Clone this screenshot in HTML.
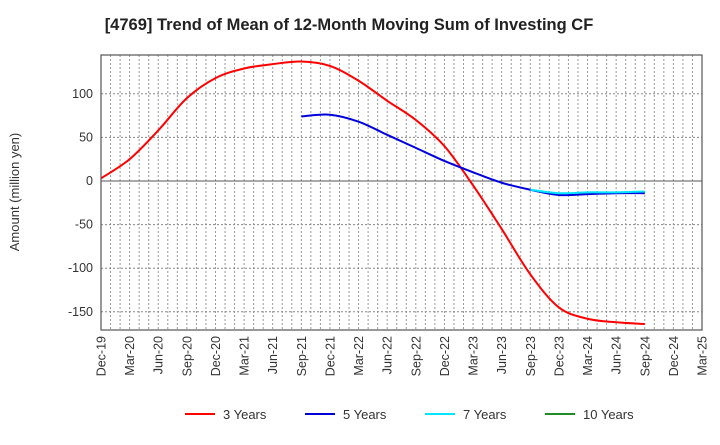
<!DOCTYPE html>
<html><head><meta charset="utf-8"><style>
body{margin:0;background:#fff;font-family:"Liberation Sans",sans-serif}
</style></head><body>
<svg id="c" width="720" height="440" xmlns="http://www.w3.org/2000/svg" font-family="Liberation Sans, sans-serif">
<text x="349" y="30" text-anchor="middle" font-size="16.5" font-weight="bold" fill="#222">[4769]  Trend of Mean of 12-Month Moving Sum of Investing CF</text>
<text transform="translate(19,192) rotate(-90)" text-anchor="middle" font-size="13" fill="#333">Amount (million yen)</text>
<g id="grid"></g><g id="series"></g><g id="axes"></g><g id="legend"></g>
</svg>
<script>
const quarters=["Dec-19","Mar-20","Jun-20","Sep-20","Dec-20","Mar-21","Jun-21","Sep-21","Dec-21","Mar-22","Jun-22","Sep-22","Dec-22","Mar-23","Jun-23","Sep-23","Dec-23","Mar-24","Jun-24","Sep-24","Dec-24","Mar-25"];
const yTicks=[100,50,0,-50,-100,-150];
const s3=[3,25,58,95,118,129,134,137,132,115,92,70,40,-5,-55,-107,-145,-158,-162,-164];
const s5=[74,76,68,53,38,23,10,-2,-10,-16,-15,-14,-14];
const s5start=7;
const s7=[-10,-14,-13,-13,-12];
const s7start=15;
const s10=[];
const NS="http://www.w3.org/2000/svg";
const L=101,R=702,T=55,B=330;
const X=i=>L+i*(R-L)/(quarters.length-1);
const Y=v=>181-v*43.6/50;
function mk(tag,attrs,parent){const e=document.createElementNS(NS,tag);for(const k in attrs)e.setAttribute(k,attrs[k]);document.getElementById(parent).appendChild(e);return e;}
for(let m=1;m<63;m++){const x=L+m*(R-L)/63;const g=mk('line',{x1:x,x2:x,y1:T,y2:B,stroke:'#999','stroke-dasharray':'2,2','stroke-width':1},'grid');

}
yTicks.forEach(v=>{const g=mk('line',{x1:L,x2:R,y1:Y(v),y2:Y(v),stroke:v===0?'#555':'#888','stroke-dasharray':v===0?'none':'2,2','stroke-width':1},'grid');


const t=mk('text',{x:L-8,y:Y(v)+4,'text-anchor':'end','font-size':12.5,fill:'#333'},'axes');t.textContent=v;

});
const fr=mk('rect',{x:L,y:T,width:R-L,height:B-T,fill:'none',stroke:'#555','stroke-width':1.2},'axes');


quarters.forEach((q,i)=>{const t=mk('text',{transform:`translate(${X(i)+4.5},${B+6}) rotate(-90)`,'text-anchor':'end','font-size':12.5,fill:'#333'},'axes');t.textContent=q;

});
function path(vals,start){const p=vals.map((v,i)=>[X(start+i),Y(v)]);if(p.length<2)return'';let d=`M${p[0][0]},${p[0][1]}`;
for(let i=0;i<p.length-1;i++){const p0=p[i-1]||p[i],p1=p[i],p2=p[i+1],p3=p[i+2]||p2;
d+=`C${p1[0]+(p2[0]-p0[0])/6},${p1[1]+(p2[1]-p0[1])/6} ${p2[0]-(p3[0]-p1[0])/6},${p2[1]-(p3[1]-p1[1])/6} ${p2[0]},${p2[1]}`;}return d;}
const ser=[[s3,0,'#ff0000','3 Years','series-3-years'],[s5,s5start,'#0000dd','5 Years','series-5-years'],[s7,s7start,'#00e5ff','7 Years','series-7-years'],[s10,0,'#228b22','10 Years','series-10-years']];
ser.forEach(([v,s,c,n,dn],k)=>{if(v.length>1){const e=mk('path',{d:path(v,s),fill:'none',stroke:c,'stroke-width':2},'series');

}
const lx=[185,305,425,545][k];
const ll=mk('line',{x1:lx,x2:lx+30,y1:414,y2:414,stroke:c,'stroke-width':2},'legend');


const t=mk('text',{x:lx+38,y:419,'font-size':13,fill:'#333'},'legend');t.textContent=n;

});
</script>
</body></html>
